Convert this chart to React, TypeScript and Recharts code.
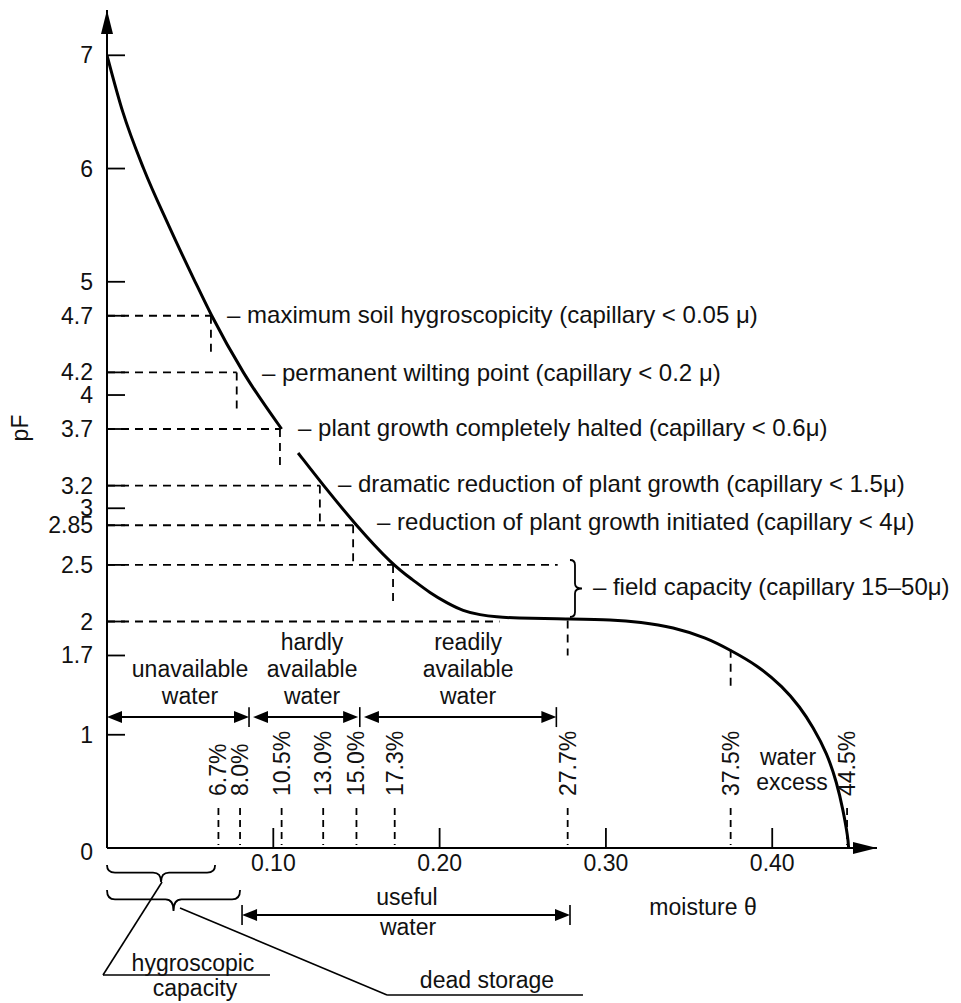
import React from 'react';
import { ComposedChart, Line, XAxis, YAxis, ReferenceLine, ReferenceDot } from 'recharts';

const FONT = '"Liberation Sans", Arial, Helvetica, sans-serif';
const FS = 23;
const FS_NOTE = 24;

// pF curve (moisture θ vs pF)
const curveDry = [
  { theta: 0, pF: 7 },
  { theta: 0.0095, pF: 6.5 },
  { theta: 0.022, pF: 6 },
  { theta: 0.037, pF: 5.5 },
  { theta: 0.053, pF: 5 },
  { theta: 0.063, pF: 4.7 },
  { theta: 0.082, pF: 4.2 },
  { theta: 0.105, pF: 3.7 },
];
const curveWet = [
  { theta: 0.1149, pF: 3.488 },
  { theta: 0.1299, pF: 3.205 },
  { theta: 0.1497, pF: 2.85 },
  { theta: 0.1717, pF: 2.5 },
  { theta: 0.184, pF: 2.367 },
  { theta: 0.1942, pF: 2.252 },
  { theta: 0.2044, pF: 2.164 },
  { theta: 0.2141, pF: 2.093 },
  { theta: 0.2243, pF: 2.058 },
  { theta: 0.2345, pF: 2.04 },
  { theta: 0.2441, pF: 2.031 },
  { theta: 0.2766, pF: 2.022 },
  { theta: 0.3043, pF: 2.016 },
  { theta: 0.3205, pF: 1.996 },
  { theta: 0.3403, pF: 1.952 },
  { theta: 0.3608, pF: 1.855 },
  { theta: 0.3746, pF: 1.749 },
  { theta: 0.3909, pF: 1.616 },
  { theta: 0.4065, pF: 1.422 },
  { theta: 0.4167, pF: 1.245 },
  { theta: 0.4245, pF: 1.069 },
  { theta: 0.4329, pF: 0.839 },
  { theta: 0.4389, pF: 0.574 },
  { theta: 0.4426, pF: 0.336 },
  { theta: 0.4456, pF: 0.088 },
  { theta: 0.4459, pF: 0.0 },
];

const xTicks = [0.1, 0.2, 0.3, 0.4];
const xTickLabels = ['0.10', '0.20', '0.30', '0.40'];
const yTicks = [0, 1, 1.7, 2, 2.5, 2.85, 3, 3.2, 3.7, 4, 4.2, 4.7, 5, 6, 7];

// horizontal dashed guides from the pF axis to the curve
const hGuides = [
  { pF: 4.7, to: 0.0625 },
  { pF: 4.2, to: 0.078 },
  { pF: 3.7, to: 0.104 },
  { pF: 3.2, to: 0.128 },
  { pF: 2.85, to: 0.149 },
  { pF: 2.5, to: 0.271 },
  { pF: 2.0, to: 0.236 },
];
// short vertical dashed drops below the curve
const vDrops = [
  { theta: 0.0625, from: 4.7, to: 4.37 },
  { theta: 0.078, from: 4.2, to: 3.87 },
  { theta: 0.104, from: 3.7, to: 3.36 },
  { theta: 0.128, from: 3.2, to: 2.85 },
  { theta: 0.148, from: 2.85, to: 2.52 },
  { theta: 0.172, from: 2.5, to: 2.16 },
  { theta: 0.277, from: 2.01, to: 1.7 },
  { theta: 0.375, from: 1.75, to: 1.395 },
];
// moisture marks (%)
const pctMarks = [6.7, 8.0, 10.5, 13.0, 15.0, 17.3, 27.7, 37.5, 44.5];
const pctTextPF = 0.459;
const pctDash = { from: 0.353, to: 0.026 };

// annotations of the curve
const curveNotes = [
  { theta: 0.0722, pF: 4.707, text: '– maximum soil hygroscopicity (capillary < 0.05 μ)' },
  { theta: 0.0932, pF: 4.195, text: '– permanent wilting point (capillary < 0.2 μ)' },
  { theta: 0.1149, pF: 3.709, text: '– plant growth completely halted (capillary < 0.6μ)' },
  { theta: 0.1389, pF: 3.223, text: '– dramatic reduction of plant growth (capillary < 1.5μ)' },
  { theta: 0.1624, pF: 2.879, text: '– reduction of plant growth initiated (capillary < 4μ)' },
  { theta: 0.2922, pF: 2.305, text: '– field capacity (capillary 15–50μ)' },
];
// centred region labels
const regionNotes = [
  { theta: 0.0499, pF: 1.581, text: 'unavailable' },
  { theta: 0.0499, pF: 1.342, text: 'water' },
  { theta: 0.1233, pF: 1.819, text: 'hardly' },
  { theta: 0.1233, pF: 1.581, text: 'available' },
  { theta: 0.1233, pF: 1.342, text: 'water' },
  { theta: 0.2171, pF: 1.819, text: 'readily' },
  { theta: 0.2171, pF: 1.581, text: 'available' },
  { theta: 0.2171, pF: 1.342, text: 'water' },
  { theta: 0.4095, pF: 0.804, text: 'water' },
  { theta: 0.4119, pF: 0.583, text: 'excess' },
  { theta: 0.1804, pF: -0.433, text: 'useful' },
  { theta: 0.181, pF: -0.698, text: 'water' },
  { theta: 0.0517, pF: -1.016, text: 'hygroscopic' },
  { theta: 0.0529, pF: -1.236, text: 'capacity' },
  { theta: 0.2285, pF: -1.166, text: 'dead storage' },
  { theta: 0.3584, pF: -0.521, text: 'moisture θ' },
];
const axisTitle = { theta: -0.0523, pF: 3.709, text: 'pF' };

// double arrows for water classes
const arrowRowPF = 1.156;
const classArrows = [
  { from: 0, to: 0.0854 },
  { from: 0.0878, to: 0.151 },
  { from: 0.1545, to: 0.2702 },
];
const classTicks = [0.0854, 0.152, 0.2702];
const usefulArrow = { from: 0.0812, to: 0.2784, pF: -0.592 };

// braces and leader lines below the axis
const hBraces = [
  { from: 0, to: 0.065, pF: -0.15, depth: 17 },
  { from: 0, to: 0.08, pF: -0.371, depth: 21 },
];
const fieldBrace = { theta: 0.2814, top: 2.543, bottom: 2.04 };
const leaderA = [
  { theta: 0.0331, pF: -0.3 },
  { theta: -0.0024, pF: -1.1215 },
  { theta: 0.098, pF: -1.1215 },
];
const leaderB = [
  { theta: 0.0439, pF: -0.53 },
  { theta: 0.1684, pF: -1.298 },
  { theta: 0.2862, pF: -1.298 },
];

const textStyle = { fontFamily: FONT, fontSize: FS, fill: '#111' };
const noteStyle = { fontFamily: FONT, fontSize: FS_NOTE, fill: '#111' };

const renderYTick = (props: any) => {
  const { x, y, payload } = props;
  const v = payload.value;
  return (
    <g>
      {v !== 0 && <line x1={x} y1={y} x2={x + 18} y2={y} stroke="#000" strokeWidth={1.8} />}
      <text x={x - 14} y={v === 0 ? y + 4 : y} textAnchor="end" dominantBaseline="central" style={textStyle}>
        {String(v)}
      </text>
    </g>
  );
};

const renderXTick = (props: any) => {
  const { x, y, payload, index } = props;
  const i = xTicks.indexOf(payload.value);
  return (
    <g>
      <line x1={x} y1={y} x2={x} y2={y - 20} stroke="#000" strokeWidth={1.8} />
      <text x={x} y={y + 15} textAnchor="middle" dominantBaseline="central" style={textStyle}>
        {xTickLabels[i >= 0 ? i : index]}
      </text>
    </g>
  );
};

const textShape = (text: string, anchor: 'start' | 'middle' | 'end', rotate = false, style: any = textStyle) => (p: any) => (
  <text
    x={p.cx}
    y={p.cy}
    textAnchor={anchor}
    dominantBaseline="central"
    transform={rotate ? `rotate(-90 ${p.cx} ${p.cy})` : undefined}
    style={style}
  >
    {text}
  </text>
);

const arrowShape = (p: any) => {
  const { x1, y1, x2, y2 } = p;
  const h = 15;
  const w = 6;
  return (
    <g>
      <line x1={x1 + h - 2} y1={y1} x2={x2 - h + 2} y2={y2} stroke="#000" strokeWidth={2} />
      <polygon points={`${x1},${y1} ${x1 + h},${y1 - w} ${x1 + h},${y1 + w}`} fill="#000" />
      <polygon points={`${x2},${y2} ${x2 - h},${y2 - w} ${x2 - h},${y2 + w}`} fill="#000" />
    </g>
  );
};

const hBraceShape = (depth: number) => (p: any) => {
  const { x1, y1, x2 } = p;
  const xm = (x1 + x2) / 2;
  const a = y1 + depth * 0.45;
  const r = 8;
  const d = `M${x1},${y1} Q${x1},${a} ${x1 + r},${a} L${xm - r},${a} Q${xm},${a} ${xm},${y1 + depth} Q${xm},${a} ${xm + r},${a} L${x2 - r},${a} Q${x2},${a} ${x2},${y1}`;
  return <path d={d} fill="none" stroke="#000" strokeWidth={1.8} />;
};

const vBraceShape = (p: any) => {
  const { x1, y1, y2 } = p;
  const top = Math.min(y1, y2);
  const bot = Math.max(y1, y2);
  const ym = (top + bot) / 2;
  const r = 5;
  const d = `M${x1 - 5},${top} Q${x1},${top} ${x1},${top + r} L${x1},${ym - r} Q${x1},${ym} ${x1 + 7},${ym} Q${x1},${ym} ${x1},${ym + r} L${x1},${bot - r} Q${x1},${bot} ${x1 - 5},${bot}`;
  return <path d={d} fill="none" stroke="#000" strokeWidth={1.8} />;
};

const upArrowShape = (p: any) => (
  <polygon points={`${p.cx},${p.cy} ${p.cx - 6},${p.cy + 24} ${p.cx + 6},${p.cy + 24}`} fill="#000" />
);
const rightArrowShape = (p: any) => (
  <polygon points={`${p.cx},${p.cy} ${p.cx - 24},${p.cy - 6} ${p.cx - 24},${p.cy + 6}`} fill="#000" />
);

const dash = { stroke: '#000', strokeWidth: 1.8, strokeDasharray: '8 6' };
const solid = { stroke: '#000', strokeWidth: 1.6 };

export default function App() {
  return (
    <div style={{ width: 961, height: 1003, overflow: 'hidden', background: '#fff' }}>
      <style>{'html,body{margin:0;padding:0;overflow:hidden;background:#fff}'}</style>
      <ComposedChart width={961} height={1003} margin={{ top: 10, right: 84, bottom: 0, left: 0 }}>
        <XAxis
          type="number"
          dataKey="theta"
          domain={[0, 0.463]}
          ticks={xTicks}
          interval={0}
          allowDataOverflow
          height={155}
          tickSize={0}
          tickMargin={0}
          tickLine={false}
          axisLine={{ stroke: '#000', strokeWidth: 2 }}
          tick={renderXTick}
        />
        <YAxis
          type="number"
          dataKey="pF"
          domain={[0, 7.4]}
          ticks={yTicks}
          interval={0}
          allowDataOverflow
          width={107}
          tickSize={0}
          tickMargin={0}
          tickLine={false}
          axisLine={{ stroke: '#000', strokeWidth: 2 }}
          tick={renderYTick}
        />

        {hGuides.map((g, i) => (
          <ReferenceLine key={`h${i}`} segment={[{ x: 0, y: g.pF }, { x: g.to, y: g.pF }]} ifOverflow="visible" {...dash} />
        ))}
        {vDrops.map((g, i) => (
          <ReferenceLine key={`v${i}`} segment={[{ x: g.theta, y: g.from }, { x: g.theta, y: g.to }]} ifOverflow="visible" {...dash} />
        ))}
        {pctMarks.map((m, i) => (
          <ReferenceLine
            key={`pd${i}`}
            segment={[{ x: m / 100, y: pctDash.from }, { x: m / 100, y: pctDash.to }]}
            ifOverflow="visible"
            stroke="#000"
            strokeWidth={1.8}
            strokeDasharray="7 5"
          />
        ))}
        {pctMarks.map((m, i) => (
          <ReferenceDot key={`pt${i}`} x={m / 100} y={pctTextPF} r={0} ifOverflow="visible" shape={textShape(`${m.toFixed(1)}%`, 'start', true)} />
        ))}

        <Line data={curveDry} dataKey="pF" type="monotone" stroke="#000" strokeWidth={3} dot={false} activeDot={false} isAnimationActive={false} />
        <Line data={curveWet} dataKey="pF" type="basis" stroke="#000" strokeWidth={3} dot={false} activeDot={false} isAnimationActive={false} />

        {curveNotes.map((n, i) => (
          <ReferenceDot key={`cn${i}`} x={n.theta} y={n.pF} r={0} ifOverflow="visible" shape={textShape(n.text, 'start', false, noteStyle)} />
        ))}
        {regionNotes.map((n, i) => (
          <ReferenceDot key={`rn${i}`} x={n.theta} y={n.pF} r={0} ifOverflow="visible" shape={textShape(n.text, 'middle')} />
        ))}
        <ReferenceDot x={axisTitle.theta} y={axisTitle.pF} r={0} ifOverflow="visible" shape={textShape(axisTitle.text, 'middle', true)} />

        {classArrows.map((a, i) => (
          <ReferenceLine key={`ca${i}`} segment={[{ x: a.from, y: arrowRowPF }, { x: a.to, y: arrowRowPF }]} ifOverflow="visible" shape={arrowShape} />
        ))}
        {classTicks.map((t, i) => (
          <ReferenceLine key={`ct${i}`} segment={[{ x: t, y: arrowRowPF + 0.088 }, { x: t, y: arrowRowPF - 0.088 }]} ifOverflow="visible" {...solid} />
        ))}
        <ReferenceLine
          segment={[{ x: usefulArrow.from, y: usefulArrow.pF }, { x: usefulArrow.to, y: usefulArrow.pF }]}
          ifOverflow="visible"
          shape={arrowShape}
        />
        {[usefulArrow.from, usefulArrow.to].map((t, i) => (
          <ReferenceLine key={`ut${i}`} segment={[{ x: t, y: usefulArrow.pF + 0.088 }, { x: t, y: usefulArrow.pF - 0.088 }]} ifOverflow="visible" {...solid} />
        ))}

        {hBraces.map((b, i) => (
          <ReferenceLine key={`hb${i}`} segment={[{ x: b.from, y: b.pF }, { x: b.to, y: b.pF }]} ifOverflow="visible" shape={hBraceShape(b.depth)} />
        ))}
        <ReferenceLine
          segment={[{ x: fieldBrace.theta, y: fieldBrace.top }, { x: fieldBrace.theta, y: fieldBrace.bottom }]}
          ifOverflow="visible"
          shape={vBraceShape}
        />
        {[leaderA, leaderB].map((L, k) =>
          L.slice(1).map((pt, i) => (
            <ReferenceLine
              key={`ld${k}-${i}`}
              segment={[{ x: L[i].theta, y: L[i].pF }, { x: pt.theta, y: pt.pF }]}
              ifOverflow="visible"
              {...solid}
            />
          ))
        )}

        <ReferenceDot x={0} y={7.4} r={0} ifOverflow="visible" shape={upArrowShape} />
        <ReferenceDot x={0.463} y={0} r={0} ifOverflow="visible" shape={rightArrowShape} />
      </ComposedChart>
    </div>
  );
}
